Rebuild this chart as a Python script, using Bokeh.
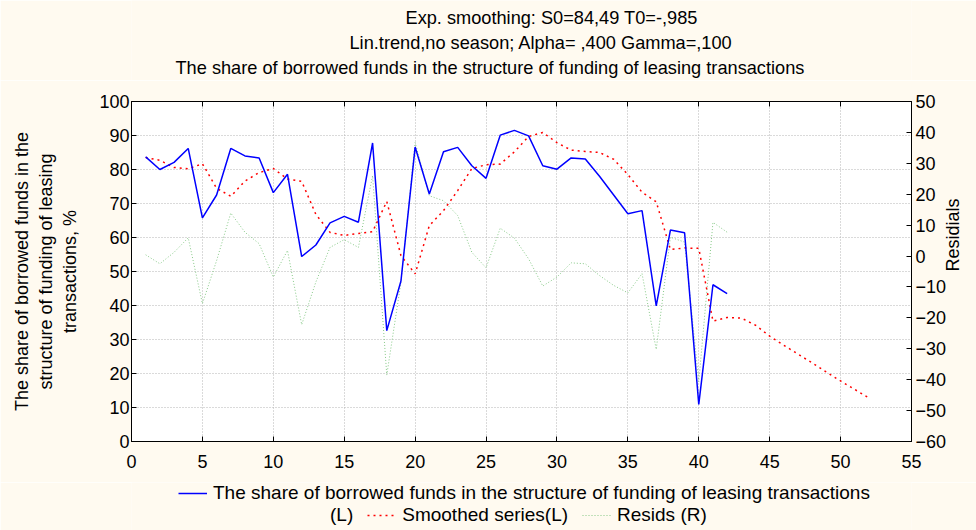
import math
from bokeh.plotting import figure
from bokeh.layouts import column
from bokeh.models import (Range1d, LinearAxis, Legend, LegendItem, Label,
                          SingleIntervalTicker)
from bokeh.embed import file_html
from bokeh.resources import INLINE

# ---------------- data ----------------
x_obs = list(range(1, 43))
observed = [83.7, 80.0, 82.1, 86.2, 65.8, 72.5, 86.2, 84.0, 83.4, 73.2,
            78.6, 54.4, 57.8, 64.3, 66.2, 64.5, 87.8, 32.6, 47.2, 86.6,
            72.8, 85.2, 86.5, 81.1, 77.4, 90.1, 91.5, 89.9, 81.1, 80.1,
            83.4, 83.1, 78.0, 72.5, 67.0, 67.9, 39.9, 62.2, 61.4, 10.9,
            46.1, 43.5]

x_smooth = list(range(1, 53))
smoothed = [83.5, 82.7, 80.6, 80.2, 81.7, 74.5, 72.1, 76.6, 79.1, 80.3,
            77.2, 76.5, 66.8, 61.5, 60.6, 61.2, 61.7, 70.6, 54.7, 49.3,
            63.5, 67.9, 73.8, 80.3, 81.4, 81.6, 85.2, 89.7, 90.9, 87.9,
            85.7, 85.3, 85.0, 83.0, 78.5, 73.3, 70.5, 56.5, 56.9, 56.8,
            35.4, 36.5, 36.3, 34.2, 31.0, 28.3, 25.7, 23.1, 20.4, 17.8,
            15.3, 12.8]

resids = [0.4, -2.5, 1.2, 5.9, -15.4, -1.5, 13.9, 7.7, 4.0, -6.8,
          1.8, -22.2, -8.4, 2.8, 5.3, 2.8, 26.0, -38.5, -8.5, 36.7,
          19.5, 17.9, 13.1, 1.2, -3.8, 9.0, 5.8, -0.9, -9.7, -6.8,
          -2.2, -2.5, -6.3, -9.5, -11.9, -5.7, -30.2, 6.1, 4.5, -40.7,
          10.9, 7.7]

title_lines = ["Exp. smoothing:  S0=84,49 T0=-,985",
               "Lin.trend,no season; Alpha=  ,400 Gamma=,100",
               "The share of borrowed funds in the structure of funding of leasing transactions"]
left_label = "The share of borrowed funds in the\nstructure of funding of leasing\ntransactions, %"
right_label = "Residials"
legend_labels = ["The share of borrowed funds in the structure of funding of leasing transactions",
                 "(L)", "Smoothed series(L)", "Resids (R)"]

FONT = "Liberation Sans"
BG = "#FFFAF0"
FS = "18px"
W = 976
TITLE_H, MAIN_H, LEG_H = 80, 402, 48
FRAME_L, FRAME_R = 131, 911   # frames of the stacked figures are aligned

BLUE = dict(line_color="#0000FF", line_width=1.5)
RED = dict(line_color="#FF0000", line_width=1.5, line_dash="2 4")
GREEN = dict(line_color="#86C886", line_width=1, line_dash="1 2")


def blank_fig(h, xr, yr):
    f = figure(width=W, height=h, x_range=xr, y_range=yr,
               output_backend="svg", toolbar_location=None, title=None,
               x_axis_location=None, y_axis_location=None,
               min_border=0, min_border_left=0, min_border_right=0,
               min_border_top=0, min_border_bottom=0,
               background_fill_color=BG, border_fill_color=BG,
               outline_line_color=None)
    f.grid.visible = False
    return f


# ---------------- title block ----------------
tf = blank_fig(TITLE_H, Range1d(FRAME_L, FRAME_R), Range1d(TITLE_H, 0))
title_x = [405, 349, 175]
title_cy = [17.5, 42.5, 67]
for txt, tx, cy in zip(title_lines, title_x, title_cy):
    tf.add_layout(Label(x=tx, y=cy, text=txt, text_align="left",
                        text_baseline="middle", text_font=FONT,
                        text_font_size="18.2px", text_color="black"))

# ---------------- main chart ----------------
p = figure(width=W, height=MAIN_H, x_range=Range1d(0, 55), y_range=Range1d(0, 100),
           output_backend="svg", toolbar_location=None, title=None,
           background_fill_color="white", border_fill_color=BG,
           min_border_left=131, min_border_right=65, min_border_top=21,
           min_border_bottom=41)
p.extra_y_ranges = {"resid": Range1d(-60, 50)}
p.outline_line_color = "black"
p.outline_line_width = 1


def style_axis(ax, standoff):
    ax.major_label_text_font = FONT
    ax.major_label_text_font_size = FS
    ax.major_label_text_color = "black"
    ax.major_tick_in = 5
    ax.major_tick_out = 0
    ax.minor_tick_in = 0
    ax.minor_tick_out = 0
    ax.minor_tick_line_color = None
    ax.axis_line_color = "black"
    ax.major_tick_line_color = "black"
    ax.major_label_standoff = standoff
    ax.axis_label_text_font = FONT
    ax.axis_label_text_font_size = FS
    ax.axis_label_text_font_style = "normal"
    ax.axis_label_text_color = "black"


xax = p.xaxis[0]
xax.ticker = SingleIntervalTicker(interval=5)
style_axis(xax, 13)

yax = p.yaxis[0]
yax.ticker = SingleIntervalTicker(interval=10)
style_axis(yax, 2)
yax.axis_label = left_label
yax.axis_label_text_line_height = 1.2
yax.axis_label_standoff = 16

p.xgrid.ticker = SingleIntervalTicker(interval=5)
p.ygrid.ticker = SingleIntervalTicker(interval=10)
for g in (p.xgrid[0], p.ygrid[0]):
    g.grid_line_color = "#B4B4B4"
    g.grid_line_dash = "1 2"
    g.grid_line_width = 1

rax = LinearAxis(y_range_name="resid", ticker=SingleIntervalTicker(interval=10))
style_axis(rax, 4)
rax.axis_label = right_label
rax.axis_label_standoff = 4
rax.axis_label_orientation = math.pi / 2
p.add_layout(rax, "right")

tax = LinearAxis(ticker=SingleIntervalTicker(interval=5))
style_axis(tax, 0)
tax.major_label_overrides = {v: "" for v in range(0, 56, 5)}
tax.major_label_text_font_size = "1px"
p.add_layout(tax, "above")

p.line(x_obs, resids, y_range_name="resid", **GREEN)
p.line(x_smooth, smoothed, **RED)
p.line(x_obs, observed, **BLUE)

# ---------------- legend block ----------------
# the sample renderers carry the series but lie outside this strip's ranges
lf = blank_fig(LEG_H, Range1d(1000, 2000), Range1d(1000, 2000))
s_blue = lf.line(x_obs, observed, **BLUE)
s_red = lf.line(x_smooth, smoothed, **RED)
s_green = lf.line(x_obs, resids, **GREEN)
s_none = lf.line(x_obs, observed, line_alpha=0)


def style_legend(lg):
    lg.border_line_color = None
    lg.background_fill_alpha = 0
    lg.padding = 0
    lg.margin = 0
    lg.spacing = 14
    lg.label_text_font = FONT
    lg.label_text_font_size = "19px"
    lg.label_text_color = "black"
    lg.glyph_width = 29
    lg.glyph_height = 22
    lg.label_height = 22
    lg.label_width = 0
    lg.label_standoff = 6


legA = Legend(items=[LegendItem(label=legend_labels[0], renderers=[s_blue])],
              location=(47, 26), orientation="horizontal")
legB = Legend(items=[LegendItem(label=legend_labels[1], renderers=[s_none]),
                     LegendItem(label=legend_labels[2], renderers=[s_red]),
                     LegendItem(label=legend_labels[3], renderers=[s_green])],
              location=(164, 4), orientation="horizontal")
style_legend(legA)
style_legend(legB)
lf.add_layout(legA, "center")
lf.add_layout(legB, "center")

layout = column(tf, p, lf, spacing=0)
open("out.html", "w").write(file_html(layout, INLINE))
